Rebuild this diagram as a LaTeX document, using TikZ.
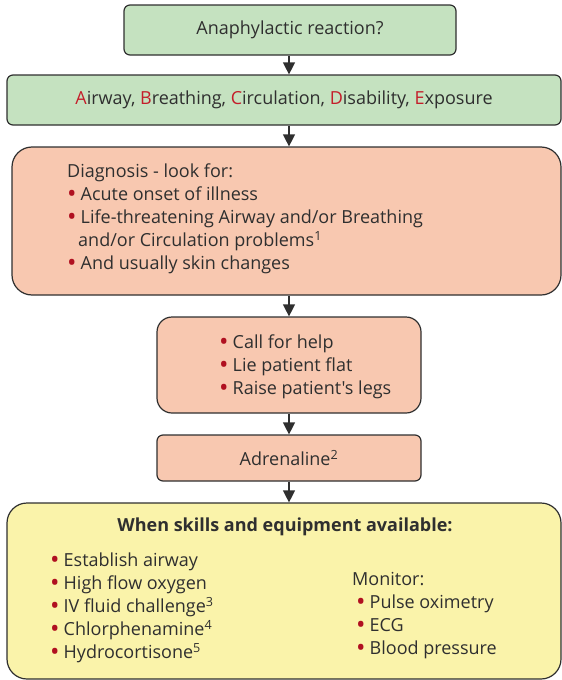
\documentclass[tikz,border=0pt]{standalone}
\usepackage{fontspec}
\setmainfont{Open Sans}[Ligatures=TeXOff]
\usetikzlibrary{arrows.meta}

\definecolor{boxgreen}{HTML}{C5E2C0}
\definecolor{boxsalmon}{HTML}{F8C8B0}
\definecolor{boxyellow}{HTML}{FAF3AA}
\definecolor{algred}{HTML}{C41E2A}
\definecolor{bulred}{HTML}{B01020}
\definecolor{inkgray}{HTML}{2F2F2F}

\newcommand{\bul}{{\color{bulred}\raisebox{-1.6pt}{\scalebox{1.4}{\textbullet}}}\hspace{4pt}}
\newcommand{\initial}[1]{{\color{algred}#1}}

\begin{document}
\begin{tikzpicture}[x=1pt, y=-1pt, >={Triangle[length=12pt,width=12pt]},
    box/.style={draw=inkgray, line width=1.2pt, rounded corners=#1, inner sep=0pt,
      text=inkgray, font=\fontsize{18}{23}\selectfont},
    box/.default=6pt,
    txt/.style={align=left, inner sep=0pt, text=inkgray, anchor=west,
      font=\fontsize{18}{23}\selectfont}]
  \useasboundingbox (0, 0) rectangle (562, 680);
  \coordinate (axis) at (289, 0);

  \node[box, fill=boxgreen, minimum width=332pt, minimum height=50pt] (react) at (290, 30)
    {Anaphylactic reaction?};
  \node[box, fill=boxgreen, minimum width=554pt, minimum height=50pt] (abcde) at (284, 100)
    {\initial{A}irway, \initial{B}reathing, \initial{C}irculation, \initial{D}isability, \initial{E}xposure};

  % diagnosis
  \node[box=20pt, fill=boxsalmon, minimum width=549pt, minimum height=148pt] (diag) at (286.5, 221) {};
  \node[txt] (diagtxt) at (67, 219) {Diagnosis - look for:\\
    \bul Acute onset of illness\\
    \bul Life-threatening Airway and/or Breathing\\
    \hspace*{11pt}and/or Circulation problems\textsuperscript{1}\\
    \bul And usually skin changes};

  % first actions
  \node[box=15pt, fill=boxsalmon, minimum width=264pt, minimum height=96pt] (help) at (289, 365) {};
  \node[txt] (helptxt) at (219, 367) {\bul Call for help\\ \bul Lie patient flat\\ \bul Raise patient's legs};

  \node[box, fill=boxsalmon, minimum width=264pt, minimum height=46pt] (adren) at (289, 458)
    {Adrenaline\textsuperscript{2}};

  % skills and equipment
  \node[box=20pt, fill=boxyellow, minimum width=554pt, minimum height=176pt] (skills) at (284, 591) {};
  \node[txt, anchor=center, font=\fontsize{18}{23}\selectfont\bfseries] (skillshead) at (285, 527)
    {When skills and equipment available:};
  \node[txt] (treat) at (50, 608) {\bul Establish airway\\ \bul High flow oxygen\\
    \bul IV fluid challenge\textsuperscript{3}\\ \bul Chlorphenamine\textsuperscript{4}\\
    \bul Hydrocortisone\textsuperscript{5}};
  \node[txt] (monitor) at (352, 616) {Monitor:\\ \hspace*{4pt}\bul Pulse oximetry\\
    \hspace*{4pt}\bul ECG\\ \hspace*{4pt}\bul Blood pressure};

  \draw[->, line width=1.3pt, inkgray] (react.south -| axis) -- (abcde.north -| axis);
  \draw[->, line width=1.3pt, inkgray] (abcde.south -| axis) -- (diag.north -| axis);
  \draw[->, line width=1.3pt, inkgray] (diag.south -| axis) -- (help.north -| axis);
  \draw[->, line width=1.3pt, inkgray] (help.south -| axis) -- (adren.north -| axis);
  \draw[->, line width=1.3pt, inkgray] (adren.south -| axis) -- (skills.north -| axis);
\end{tikzpicture}
\end{document}
